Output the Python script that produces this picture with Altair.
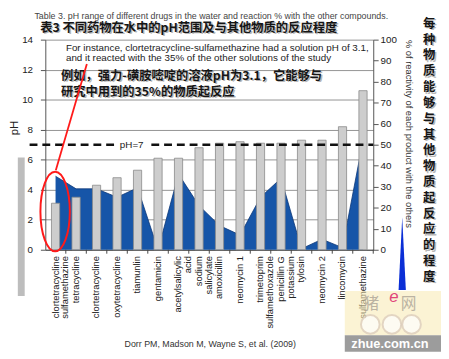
import altair as alt
import pandas as pd

cats = ["clortetracycline|sulfamethazine", "tetracycline", "clortetracycline", "oxytetracycline",
        "tiamunlin", "gentamicin", "acetylsalicylic|acid", "sodium|salicylate", "amoxicillin",
        "neomycin 1", "trimetoprim|sulfamethoxazole", "penicillin G|potassium", "tylosin",
        "neomycin 2", "lincomycin", "sulfamethazine"]
ph = [3.1, 3.5, 4.3, 4.8, 5.3, 6.1, 6.1, 6.8, 7.1, 7.2, 7.1, 7.1, 7.3, 7.3, 8.2, 10.6]
react = [35, 29, 29, 25, 29.5, 0, 36, 21, 11.5, 7, 25, 34, 0.5, 5, 1, 52]
ph_ticks = [0, 2, 4, 6, 8, 10, 12, 14]
pct_ticks = [0, 10, 20, 30, 40, 50, 60, 70, 80, 90, 100]
neutral_ph = [7]

title_en = "Table 3. pH range of different drugs in the water and reaction % with the other compounds."
title_cn = "表3 不同药物在水中的pH范围及与其他物质的反应程度"
note_en = ["For instance, clortetracycline-sulfamethazine had a solution pH of 3.1,",
           "and it reacted with the 35% of the other solutions of the study"]
note_cn = ["例如，强力-磺胺嘧啶的溶液pH为3.1，它能够与", "研究中用到的35%的物质起反应"]
side_cn = "每种物质能够与其他物质起反应的程度"
right_title = "% of reactivity of each product with the others"
citation = "Dorr PM, Madson M, Wayne S, et al. (2009)"

df = pd.DataFrame({"cat": cats, "ph": ph, "react": react})
ref = pd.DataFrame({"ph": neutral_ph})
one = pd.DataFrame({"a": [0]})

W, H = 334, 214
FONT = "Liberation Sans"
CJK = "Noto Sans CJK SC"

xaxis = alt.Axis(title=None, labelAngle=270, labelAlign="right", labelBaseline="middle",
                 labelExpr="split(datum.label, '|')", labelFont=FONT, labelFontSize=9.5,
                 labelColor="#222", labelLineHeight=10, labelPadding=6, ticks=False, tickSize=0,
                 domainColor="#444", labelOverlap=False)
xscale = alt.Scale(paddingInner=0.6, paddingOuter=0.3)


def X(**kw):
    return alt.X("cat:N", sort=cats, scale=xscale, axis=xaxis, **kw)


phaxis = alt.Axis(orient="left", values=ph_ticks, grid=True, gridColor="#939393", title=None,
                  domainColor="#555", tickColor="#555", tickSize=5, labelPadding=8,
                  labelFont=FONT, labelFontSize=10, labelColor="#222", labelOverlap=False)
phscale = alt.Scale(domain=[0, 14], nice=False)


def YPH():
    return alt.Y("ph:Q", scale=phscale, axis=phaxis)


area = alt.Chart(df).mark_area(color="#1655a8", opacity=1,
                               line={"color": "#0c3575", "strokeWidth": 0.8}).encode(
    x=X(),
    y=alt.Y("react:Q", scale=alt.Scale(domain=[0, 100], nice=False),
            axis=alt.Axis(orient="right", values=pct_ticks, grid=False, title=None, domainColor="#555",
                          tickColor="#555", tickSize=5, labelPadding=2, labelFont=FONT, labelFontSize=10,
                          labelColor="#222", labelOverlap=False)),
)

bars = alt.Chart(df).mark_bar(fill="#cdcdcd", stroke="#8a8a8a", strokeWidth=0.8).encode(
    x=X(), y=YPH())

rule7a = alt.Chart(ref).mark_rule(strokeDash=[8, 5], strokeWidth=2.5, color="#111").encode(
    y=YPH(), x=alt.value(-16), x2=alt.value(71))
rule7b = alt.Chart(ref).mark_rule(strokeDash=[8, 5], strokeWidth=2.5, color="#111").encode(
    y=YPH(), x=alt.value(108), x2=alt.value(W))
ph7 = alt.Chart(ref).mark_text(font=FONT, fontSize=10, color="#222").encode(
    y=YPH(), x=alt.value(88), text=alt.value("pH=7"))

inner = alt.layer(bars, rule7a, rule7b, ph7)

cticks = alt.Chart(df).mark_rule(color="#444", xOffset=6.26).encode(
    x=X(bandPosition=1), y=alt.value(H), y2=alt.value(H + 4))


def txt(s, x, y, **kw):
    return alt.Chart(one).mark_text(**kw).encode(x=alt.value(x), y=alt.value(y), text=alt.value(s))


def cn(s, x, y, size, **kw):
    shadow = txt(s, x + 1.5, y + 1.5, font=CJK, fontWeight="bold", fontSize=size, color="#888",
                 opacity=0.6, **kw)
    main = txt(s, x, y, font=CJK, fontWeight="bold", fontSize=size, color="#151515", **kw)
    return [shadow, main]


graybar = alt.Chart(one).mark_rect(color="#bdbdbd").encode(
    x=alt.value(-28), x2=alt.value(-21), y=alt.value(120), y2=alt.value(261))

layers = [graybar, area, inner, cticks]
layers.append(txt(title_en, 169, -24, font=FONT, fontSize=9, color="#444"))
layers += cn(title_cn, 146, -12, 12.5)
layers.append(txt(note_en, 21, 4, font=FONT, fontSize=10, color="#222", align="left",
                  baseline="top", lineHeight=9.5))
layers += cn(note_cn[0], 16, 37, 12.5, align="left")
layers += cn(note_cn[1], 16, 53, 12.5, align="left")
for i, ch in enumerate(side_cn):
    layers += cn(ch, 391, -16 + 16.1 * i, 12.5)
layers.append(txt("pH", -31, 90, font=FONT, fontSize=11.5, color="#222", angle=270))
layers.append(txt(right_title, 370, 96, font=FONT, fontSize=9.5, color="#333", angle=90))
layers.append(txt(citation, 168, 310, font=FONT, fontSize=9, color="#333"))

ellipse = "M 0 -1 C 0.204 -1 0.37 -0.552 0.37 0 C 0.37 0.552 0.204 1 0 1 C -0.204 1 -0.37 0.552 -0.37 0 C -0.37 -0.552 -0.204 -1 0 -1 Z"
layers.append(alt.Chart(one).mark_point(shape=ellipse, size=6561, filled=False, stroke="#ff1a1a",
                                          strokeWidth=2, opacity=1).encode(x=alt.value(10), y=alt.value(175)))
layers.append(alt.Chart(one).mark_rule(color="#ff1a1a", strokeWidth=1.8).encode(
    x=alt.value(42.3), y=alt.value(24.7), x2=alt.value(10.7), y2=alt.value(133)))
tri = "M 0 -1 L 0.1 1 L -0.1 1 Z"
layers.append(alt.Chart(one).mark_point(shape=tri, size=5476, filled=True, fill="#0b2fd6", opacity=1,
                                          strokeWidth=0).encode(x=alt.value(363.5), y=alt.value(218)))

# logo
layers.append(alt.Chart(one).mark_rect(color="#f7eab0", opacity=0.55).encode(
    x=alt.value(305), x2=alt.value(403), y=alt.value(256), y2=alt.value(301)))
for px in [331, 353, 373]:
    layers.append(alt.Chart(one).mark_point(shape="circle", size=361, filled=True, fill="#ffffff",
                                              stroke="#d9c9bb", strokeWidth=2, opacity=0.7).encode(
        x=alt.value(px), y=alt.value(290)))
layers.append(txt("猪", 332, 269, font=CJK, fontSize=16, color="#b0a89a", opacity=0.85))
layers.append(txt("网", 370, 269, font=CJK, fontSize=16, color="#b0a89a", opacity=0.85))
layers.append(txt("e", 355, 262, font=FONT, fontSize=17, fontStyle="italic", color="#e0457b"))
layers.append(alt.Chart(one).mark_rect(color="#9c9c9c").encode(
    x=alt.value(305), x2=alt.value(403), y=alt.value(301), y2=alt.value(318)))
layers.append(txt("zhue.com.cn", 351, 310, font=FONT, fontSize=13, fontWeight="bold", color="#ffffff"))

chart = alt.layer(*layers).resolve_scale(y="independent").properties(
    width=W, height=H,
    padding={"left": 38, "top": 29, "right": 69, "bottom": 106},
    autosize=alt.AutoSizeParams(type="none"),
    background="#ffffff",
).configure_view(stroke=None).configure_axis(labelOverlap=False)

chart.save("out.html", embed_options={"renderer": "svg", "actions": False})
